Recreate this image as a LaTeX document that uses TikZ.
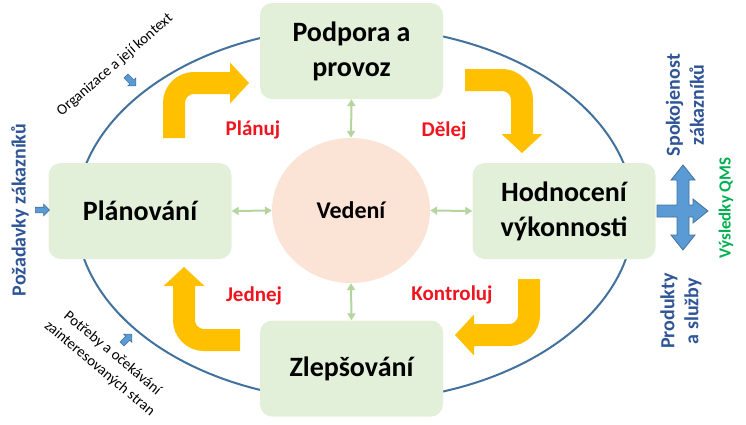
\documentclass[tikz,border=0pt]{standalone}
\usepackage{fontspec}
\setmainfont{Carlito}
\usetikzlibrary{arrows.meta}
\usetikzlibrary{shapes.geometric, shapes.arrows, positioning, calc}

\definecolor{boxgreen}{HTML}{E2F0D9}
\definecolor{leadfill}{HTML}{FBE3D6}
\definecolor{linkgreen}{HTML}{B4D69E}
\definecolor{cycleyellow}{HTML}{FFC000}
\definecolor{ringblue}{HTML}{41719C}
\definecolor{inblue}{HTML}{5B9BD5}
\definecolor{textblue}{HTML}{2F5597}
\definecolor{textred}{HTML}{F0141E}
\definecolor{textgreen}{HTML}{00B050}

\begin{document}
\begin{tikzpicture}[x=1pt,y=-1pt]
		\tikzset{
			linktip/.tip={Triangle[length=7pt, width=8pt]},
			cycletip/.tip={Triangle[length=19pt, width=41pt, line width=0pt]},
			stagebox/.style={fill=boxgreen, rounded corners=12pt, minimum width=183pt, minimum height=96pt, align=center, font=\fontsize{28}{35}\selectfont\bfseries},
			phaselabel/.style={text=textred, font=\fontsize{21}{25}\selectfont\bfseries},
			sidelabel/.style={text=textblue, align=center, rotate=90, font=\fontsize{20}{24}\selectfont\bfseries},
			notelabel/.style={align=center, font=\fontsize{15}{20}\selectfont},
			leadlink/.style={draw=linkgreen, line width=2pt, linktip-linktip},
			pdcaarrow/.style={draw=cycleyellow, line width=22pt, rounded corners=20pt, -cycletip},
			inarrow/.style={single arrow, draw=ringblue, fill=inblue, line width=0.6pt, inner sep=2.5pt, minimum height=14pt, single arrow head extend=3pt},
		}
		\useasboundingbox (0,0) rectangle (746,424);
		\draw[ringblue, line width=2pt] (355,214) ellipse [x radius=279, y radius=187];

		\node[stagebox] (podp) at (351.5,51) {Podpora a\\provoz};
		\node[stagebox] (plan) at (140,211) {Plánování};
		\node[stagebox] (hodn) at (564,211) {Hodnocení\\výkonnosti};
		\node[stagebox] (zlep) at (351.5,368.5) {Zlepšování};
		\node[ellipse, fill=leadfill, minimum width=158pt, minimum height=145pt, font=\fontsize{24}{28}\selectfont\bfseries] (ved) at (351,210.5) {Vedení};

		\draw[leadlink] (ved.north) -- (podp.south);
		\draw[leadlink] (ved.south) -- (zlep.north);
		\draw[leadlink] (ved.west) -- (plan.east);
		\draw[leadlink] (ved.east) -- (hodn.west);

		\coordinate (tl1) at (174,138);
		\coordinate (tl2) at (249,83);
		\coordinate (tr1) at (465,80);
		\coordinate (tr2) at (522,153);
		\coordinate (br1) at (529,279);
		\coordinate (br2) at (455,335);
		\coordinate (bl1) at (240,340);
		\coordinate (bl2) at (184,267);
		\draw[pdcaarrow] (tl1) |- (tl2);
		\draw[pdcaarrow] (tr1) -| (tr2);
		\draw[pdcaarrow] (br1) |- (br2);
		\draw[pdcaarrow] (bl1) -| (bl2);

		\node[phaselabel] (planuj) at (253,130) {Plánuj};
		\node[phaselabel] (delej) at (444,131) {Dělej};
		\node[phaselabel] (kontr) at (452,295) {Kontroluj};
		\node[phaselabel] (jednej) at (254,296) {Jednej};

		\node[sidelabel] (pozad) at (20,210) {Požadavky zákazníků};
		\node[sidelabel] (spok) at (685,105) {Spokojenost\\zákazníků};
		\node[sidelabel] (prod) at (681,311) {Produkty\\a služby};
		\node[sidelabel, text=textgreen, font=\fontsize{17}{20}\selectfont\bfseries] (vysl) at (726,208) {Výsledky QMS};

		\node[notelabel, rotate=41] (org) at (115,65) {Organizace a její kontext};
		\node[notelabel, rotate=-40] (potr) at (106,361) {Potřeby a očekávání\\zainteresovaných stran};

		\node[inarrow] (inpoz) at (41,210) {};
		\node[inarrow, rotate=-45] (inorg) at (130,80) {};
		\node[inarrow, rotate=45] (inpotr) at (126,340) {};

		\filldraw[fill=inblue, draw=ringblue, line width=0.8pt] (683,165) -- (695,180) -- (689,180) -- (689,205) -- (693,205) -- (693,199) -- (708,211) -- (693,223) -- (693,217) -- (689,217) -- (689,235) -- (695,235) -- (683,250) -- (671,235) -- (677,235) -- (677,217) -- (657,217) -- (657,205) -- (677,205) -- (677,180) -- (671,180) -- cycle;
	\end{tikzpicture}
\end{document}
